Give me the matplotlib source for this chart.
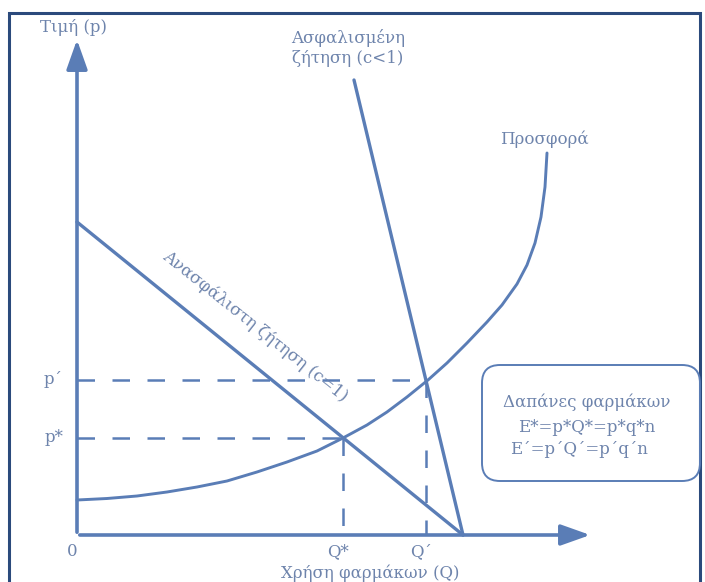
import matplotlib
matplotlib.use('Agg')
import matplotlib.pyplot as plt
from matplotlib.patches import FancyBboxPatch, FancyArrowPatch, Rectangle

# --- data (quantity Q, price p) ---
uninsured_Q = [0, 386]
uninsured_p = [313, 0]
insured_Q = [277, 386]
insured_p = [455, 0]
supply_Q = [0, 30, 60, 90, 120, 150, 180, 210, 240, 266, 290, 310, 330, 351,
            370, 390, 410, 425, 440, 450, 458, 464, 468, 470]
supply_p = [35, 36.5, 39, 43, 48, 54, 63, 73, 84, 97, 110, 123, 138, 155,
            172, 192, 213, 230, 251, 270, 292, 318, 348, 382]
Q_star, p_star = 266, 97
Q_dash, p_dash = 349, 155
x_end, y_end = 516, 498

LINE = '#5a7db6'
TEXT = '#6e84ac'
FRAME = '#2b4a7c'
plt.rcParams['font.family'] = ['DejaVu Serif', 'Liberation Serif']

fig = plt.figure(figsize=(7.05, 5.82), dpi=100)
ax = fig.add_axes([0, 0, 1, 1])
ax.set_xlim(-77, 628)
ax.set_ylim(-47, 535)
ax.axis('off')

# frame
ax.add_patch(Rectangle((-68, -60), 691, 582, fill=False, ec=FRAME, lw=2.2, zorder=1))

# axes with arrows
for tip in [(0, y_end), (x_end, 0)]:
    ax.add_patch(FancyArrowPatch((0, 0), tip, arrowstyle='-|>,head_length=0.9,head_width=0.32',
                                 mutation_scale=20, color=LINE, lw=2.6, zorder=3))

# curves
ax.plot(uninsured_Q, uninsured_p, color=LINE, lw=2.4, solid_capstyle='round', zorder=4)
ax.plot(insured_Q, insured_p, color=LINE, lw=2.4, solid_capstyle='round', zorder=4)
ax.plot(supply_Q, supply_p, color=LINE, lw=2.1, solid_capstyle='round',
        solid_joinstyle='round', zorder=4)

# dashed guide lines
dash = dict(color=LINE, lw=1.8, dashes=(7, 7), zorder=2)
for q, p in [(Q_star, p_star), (Q_dash, p_dash)]:
    ax.plot([0, q], [p, p], **dash)
    ax.plot([q, q], [p, 0], **dash)

# labels
tk = dict(color=TEXT, fontsize=12)
ax.text(-4, 507, 'Τιμή (p)', ha='center', va='center', **tk)
ax.text(271, 487, 'Ασφαλισμένη\nζήτηση (c<1)', ha='center', va='center',
        multialignment='center', linespacing=1.2, **tk)
ax.text(467, 396, 'Προσφορά', ha='center', va='center', **tk)
ax.text(178, 209, 'Ανασφάλιστη ζήτηση (c=1)', ha='center', va='center', rotation=-38.5,
        rotation_mode='anchor', **tk)
ax.text(-14, p_dash, 'p΄', ha='right', va='center', **tk)
ax.text(-14, p_star, 'p*', ha='right', va='center', **tk)
ax.text(-5, -16, '0', ha='center', va='center', **tk)
ax.text(Q_star - 5, -17, 'Q*', ha='center', va='center', **tk)
ax.text(Q_dash - 5, -17, 'Q΄', ha='center', va='center', **tk)
ax.text(293, -38, 'Χρήση φαρμάκων (Q)', ha='center', va='center', **tk)

# expenditure box
ax.add_patch(FancyBboxPatch((415, 64), 198, 96, boxstyle='round,pad=10,rounding_size=18',
                            fill=False, ec=LINE, lw=1.4, zorder=3))
ax.text(426, 133, 'Δαπάνες φαρμάκων', ha='left', va='center', **tk)
ax.text(441, 107, 'E*=p*Q*=p*q*n', ha='left', va='center', **tk)
ax.text(433, 85, 'E΄=p΄Q΄=p΄q΄n', ha='left', va='center', **tk)

fig.savefig('out.png', dpi=100, facecolor='white')
